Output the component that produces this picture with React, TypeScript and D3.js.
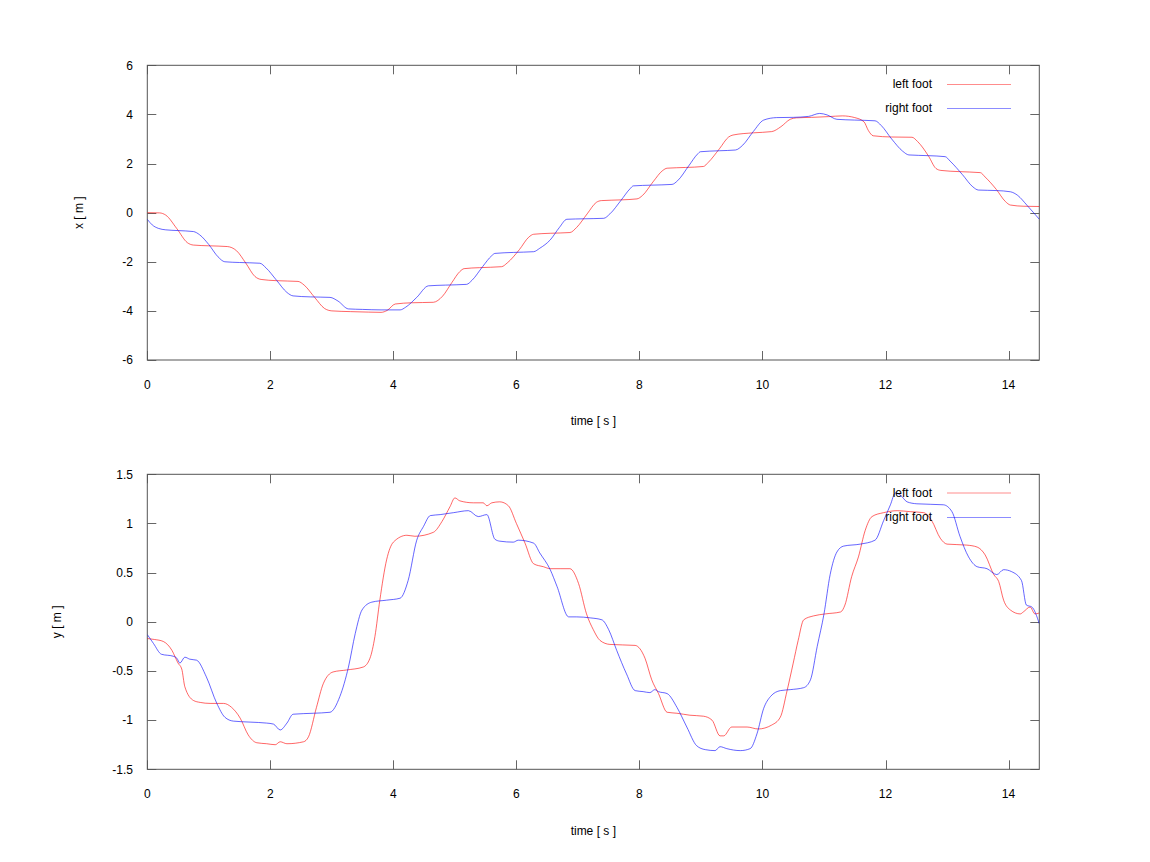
import React, { useEffect, useRef } from "react";
import * as d3 from "d3";

// [time (s), position (m)] samples
const leftFootX: [number, number][] = [
  [0, 0], [0.2, -0.01], [0.3, -0.1], [0.48, -0.65], [0.65, -1.22], [0.75, -1.32], [1.0, -1.35], [1.3, -1.38],
  [1.45, -1.55], [1.6, -2.05], [1.75, -2.6], [1.85, -2.72], [2.1, -2.77], [2.45, -2.8], [2.55, -2.95], [2.72, -3.45],
  [2.88, -3.9], [3.0, -4.0], [3.3, -4.03], [3.6, -4.05], [3.8, -4.06], [3.9, -3.98], [4.03, -3.72], [4.3, -3.67],
  [4.65, -3.65], [4.8, -3.4], [4.95, -2.85], [5.08, -2.4], [5.15, -2.28], [5.4, -2.24], [5.76, -2.2], [5.85, -2.05],
  [6.05, -1.5], [6.2, -1.0], [6.28, -0.88], [6.55, -0.84], [6.87, -0.81], [6.98, -0.6], [7.15, -0.05], [7.3, 0.42],
  [7.38, 0.49], [7.7, 0.52], [7.96, 0.56], [8.05, 0.7], [8.22, 1.25], [8.38, 1.72], [8.45, 1.81], [8.75, 1.84],
  [9.04, 1.88], [9.12, 2.05], [9.3, 2.6], [9.45, 3.08], [9.52, 3.16], [9.85, 3.25], [10.15, 3.3], [10.3, 3.5],
  [10.45, 3.8], [10.55, 3.86], [10.8, 3.88], [11.07, 3.91], [11.3, 3.94], [11.5, 3.87], [11.65, 3.7], [11.72, 3.35],
  [11.8, 3.13], [12.1, 3.08], [12.43, 3.07], [12.52, 2.9], [12.7, 2.3], [12.82, 1.8], [12.9, 1.72], [13.2, 1.67],
  [13.54, 1.63], [13.62, 1.45], [13.8, 0.95], [13.95, 0.45], [14.03, 0.31], [14.25, 0.26], [14.5, 0.25],
];

const rightFootX: [number, number][] = [
  [0, -0.27], [0.08, -0.5], [0.18, -0.64], [0.3, -0.7], [0.5, -0.73], [0.75, -0.77], [0.85, -0.9], [1.0, -1.3],
  [1.15, -1.8], [1.26, -2.0], [1.5, -2.03], [1.83, -2.06], [1.93, -2.25], [2.1, -2.75], [2.27, -3.25], [2.37, -3.39],
  [2.65, -3.43], [2.97, -3.45], [3.1, -3.6], [3.27, -3.92], [3.5, -3.94], [3.8, -3.96], [4.11, -3.96], [4.2, -3.85],
  [4.38, -3.45], [4.57, -2.98], [4.85, -2.95], [5.19, -2.92], [5.28, -2.75], [5.45, -2.2], [5.6, -1.75], [5.65, -1.66],
  [5.95, -1.62], [6.28, -1.59], [6.38, -1.45], [6.55, -1.11], [6.7, -0.6], [6.82, -0.27], [7.1, -0.25], [7.42, -0.23],
  [7.52, -0.05], [7.7, 0.5], [7.85, 0.98], [7.9, 1.09], [8.2, 1.12], [8.53, 1.15], [8.62, 1.3], [8.8, 1.9],
  [8.95, 2.4], [8.99, 2.48], [9.3, 2.52], [9.56, 2.55], [9.68, 2.75], [9.85, 3.3], [10.02, 3.77], [10.23, 3.87],
  [10.5, 3.88], [10.75, 3.92], [10.93, 4.04], [11.05, 3.98], [11.21, 3.8], [11.5, 3.77], [11.83, 3.74], [11.93, 3.55],
  [12.1, 3.0], [12.28, 2.5], [12.38, 2.35], [12.7, 2.32], [12.97, 2.28], [13.05, 2.1], [13.25, 1.55], [13.42, 1.05],
  [13.51, 0.92], [13.8, 0.9], [14.03, 0.85], [14.15, 0.7], [14.3, 0.3], [14.5, -0.27],
];

const leftFootY: [number, number][] = [
  [0, -0.17], [0.12, -0.18], [0.26, -0.2], [0.4, -0.29], [0.5, -0.42], [0.56, -0.48], [0.61, -0.66], [0.75, -0.8],
  [0.86, -0.82], [1.02, -0.83], [1.24, -0.83], [1.37, -0.87], [1.51, -0.98], [1.64, -1.15], [1.78, -1.23], [1.94, -1.24],
  [2.08, -1.25], [2.16, -1.22], [2.27, -1.24], [2.54, -1.22], [2.62, -1.17], [2.75, -0.87], [2.86, -0.63], [3.02, -0.51],
  [3.24, -0.49], [3.51, -0.46], [3.62, -0.37], [3.7, -0.15], [3.78, 0.22], [3.89, 0.63], [4.0, 0.81], [4.22, 0.88],
  [4.35, 0.87], [4.65, 0.91], [4.79, 1.02], [4.92, 1.17], [5.0, 1.26], [5.08, 1.23], [5.3, 1.21], [5.46, 1.21],
  [5.52, 1.18], [5.6, 1.21], [5.73, 1.22], [5.87, 1.18], [6.0, 1.0], [6.14, 0.8], [6.28, 0.59], [6.44, 0.56],
  [6.55, 0.54], [6.71, 0.54], [6.87, 0.54], [7.01, 0.39], [7.14, 0.08], [7.25, -0.08], [7.36, -0.19], [7.52, -0.23],
  [7.93, -0.24], [8.09, -0.37], [8.2, -0.59], [8.31, -0.73], [8.45, -0.92], [8.61, -0.93], [8.82, -0.95], [9.04, -0.96],
  [9.18, -1.0], [9.31, -1.16], [9.37, -1.16], [9.5, -1.07], [9.75, -1.07], [9.93, -1.09], [10.15, -1.05], [10.29, -0.97],
  [10.4, -0.7], [10.5, -0.42], [10.58, -0.19], [10.67, 0.02], [10.83, 0.06], [11.02, 0.08], [11.27, 0.1], [11.34, 0.17],
  [11.45, 0.46], [11.56, 0.66], [11.67, 0.93], [11.78, 1.07], [11.97, 1.11], [12.19, 1.13], [12.4, 1.12], [12.62, 1.11],
  [12.75, 1.03], [12.89, 0.85], [13.0, 0.79], [13.32, 0.78], [13.49, 0.76], [13.62, 0.68], [13.76, 0.48], [13.84, 0.41],
  [13.92, 0.22], [14.03, 0.12], [14.19, 0.08], [14.24, 0.1], [14.35, 0.15], [14.43, 0.08], [14.5, 0.09],
];

const rightFootY: [number, number][] = [
  [0, -0.13], [0.1, -0.22], [0.23, -0.33], [0.42, -0.35], [0.48, -0.37], [0.53, -0.42], [0.61, -0.36], [0.69, -0.38],
  [0.8, -0.39], [0.96, -0.56], [1.13, -0.83], [1.26, -0.97], [1.4, -1.01], [1.67, -1.02], [1.94, -1.03], [2.05, -1.04],
  [2.16, -1.1], [2.27, -1.03], [2.37, -0.94], [2.7, -0.93], [2.97, -0.92], [3.13, -0.76], [3.27, -0.46], [3.38, -0.12],
  [3.49, 0.12], [3.65, 0.2], [3.89, 0.22], [4.11, 0.24], [4.24, 0.42], [4.38, 0.83], [4.49, 0.97], [4.6, 1.08],
  [4.76, 1.09], [4.98, 1.11], [5.22, 1.13], [5.38, 1.07], [5.52, 1.09], [5.65, 0.84], [5.73, 0.82], [5.95, 0.81],
  [6.03, 0.83], [6.28, 0.8], [6.38, 0.7], [6.55, 0.53], [6.66, 0.36], [6.85, 0.05], [6.98, 0.05], [7.2, 0.04],
  [7.39, 0.02], [7.5, -0.08], [7.63, -0.29], [7.79, -0.53], [7.93, -0.7], [8.06, -0.71], [8.17, -0.72], [8.25, -0.69],
  [8.31, -0.71], [8.45, -0.73], [8.61, -0.87], [8.77, -1.07], [8.93, -1.26], [9.07, -1.3], [9.23, -1.31], [9.31, -1.27],
  [9.42, -1.29], [9.64, -1.31], [9.8, -1.29], [9.91, -1.14], [10.02, -0.88], [10.13, -0.76], [10.29, -0.7], [10.45, -0.69],
  [10.67, -0.67], [10.78, -0.59], [10.89, -0.25], [11.0, 0.08], [11.1, 0.48], [11.21, 0.71], [11.32, 0.77], [11.59, 0.79],
  [11.83, 0.83], [11.97, 1.03], [12.08, 1.19], [12.16, 1.31], [12.24, 1.29], [12.35, 1.22], [12.51, 1.2], [12.94, 1.19],
  [13.08, 1.12], [13.21, 0.87], [13.35, 0.66], [13.49, 0.56], [13.65, 0.54], [13.81, 0.48], [13.92, 0.53], [14.05, 0.51],
  [14.21, 0.42], [14.29, 0.17], [14.38, 0.15], [14.5, -0.02],
];

const timeTicks = [0, 2, 4, 6, 8, 10, 12, 14];
const xPosTicks = [-6, -4, -2, 0, 2, 4, 6];
const yPosTicks = [-1.5, -1, -0.5, 0, 0.5, 1, 1.5];
const seriesNames = ["left foot", "right foot"];
const seriesColors = ["#ff0000", "#0000ff"];

const W = 1150;
const H = 862;
const FONT = "'Liberation Sans', Arial, sans-serif";

const App: React.FC = () => {
  const svgRef = useRef<SVGSVGElement | null>(null);

  useEffect(() => {
    const svg = d3.select(svgRef.current);
    svg.selectAll("*").remove();

    const left = 147.3;
    const right = 1039.3;
    const x = d3.scaleLinear().domain([0, 14.5]).range([left, right]);

    const panels = [
      {
        top: 65.3, bottom: 360, domain: [-6, 6], ticks: xPosTicks, label: "x [ m ]", labelX: 79,
        series: [leftFootX, rightFootX], legendY: [84, 108],
      },
      {
        top: 474.3, bottom: 769.3, domain: [-1.5, 1.5], ticks: yPosTicks, label: "y [ m ]", labelX: 57,
        series: [leftFootY, rightFootY], legendY: [492.5, 517],
      },
    ];

    panels.forEach((p, pi) => {
      const y = d3.scaleLinear().domain(p.domain).range([p.bottom, p.top]);
      const g = svg.append("g");

      // clip for curves
      const clipId = `clip-${pi}`;
      svg.append("defs").append("clipPath").attr("id", clipId)
        .append("rect").attr("x", left).attr("y", p.top).attr("width", right - left).attr("height", p.bottom - p.top);

      // ticks (inward, mirrored)
      const tickLen = 9;
      timeTicks.forEach((t) => {
        const px = Math.round(x(t)) + 0.5;
        g.append("line").attr("x1", px).attr("x2", px).attr("y1", p.bottom).attr("y2", p.bottom - tickLen)
          .attr("stroke", "#666").attr("stroke-width", 1);
        g.append("line").attr("x1", px).attr("x2", px).attr("y1", p.top).attr("y2", p.top + tickLen)
          .attr("stroke", "#666").attr("stroke-width", 1);
        g.append("text").attr("x", x(t)).attr("y", p.bottom + 29).attr("text-anchor", "middle")
          .attr("font-family", FONT).attr("font-size", 12).attr("fill", "#000").text(String(t));
      });
      p.ticks.forEach((v) => {
        const py = Math.round(y(v)) + 0.5;
        g.append("line").attr("x1", left).attr("x2", left + tickLen).attr("y1", py).attr("y2", py)
          .attr("stroke", "#666").attr("stroke-width", 1);
        g.append("line").attr("x1", right).attr("x2", right - tickLen).attr("y1", py).attr("y2", py)
          .attr("stroke", "#666").attr("stroke-width", 1);
        g.append("text").attr("x", 133).attr("y", y(v)).attr("dy", "0.35em").attr("text-anchor", "end")
          .attr("font-family", FONT).attr("font-size", 12).attr("fill", "#000").text(String(v));
      });

      // border
      g.append("rect").attr("x", left).attr("y", p.top).attr("width", right - left).attr("height", p.bottom - p.top)
        .attr("fill", "none").attr("stroke", "#555").attr("stroke-width", 1);

      // axis labels
      g.append("text").attr("x", (left + right) / 2).attr("y", p.bottom + 61).attr("dy", "0.35em")
        .attr("text-anchor", "middle").attr("font-family", FONT).attr("font-size", 12).text("time [ s ]");
      g.append("text").attr("transform", `translate(${p.labelX},${(p.top + p.bottom) / 2}) rotate(-90)`)
        .attr("dy", "0.35em").attr("text-anchor", "middle").attr("font-family", FONT).attr("font-size", 12)
        .text(p.label);

      // curves
      const line = d3.line<[number, number]>()
        .x((d) => x(d[0]))
        .y((d) => y(d[1]))
        .curve(d3.curveMonotoneX);
      p.series.forEach((s, si) => {
        g.append("path").attr("d", line(s)!).attr("fill", "none")
          .attr("stroke", seriesColors[si]).attr("stroke-opacity", 0.6).attr("stroke-width", 1)
          .attr("clip-path", `url(#${clipId})`);
      });

      // legend
      seriesNames.forEach((name, si) => {
        const ly = p.legendY[si];
        g.append("text").attr("x", 932).attr("y", ly).attr("dy", "0.35em").attr("text-anchor", "end")
          .attr("font-family", FONT).attr("font-size", 12).attr("fill", "#000").text(name);
        g.append("line").attr("x1", 947).attr("x2", 1011).attr("y1", ly + 0.5).attr("y2", ly + 0.5)
          .attr("stroke", seriesColors[si]).attr("stroke-opacity", 0.45).attr("stroke-width", 1);
      });
    });
  }, []);

  return (
    <svg
      ref={svgRef}
      width={W}
      height={H}
      style={{ position: "absolute", left: 0, top: 0, background: "#fff" }}
    ></svg>
  );
};

export default App;
